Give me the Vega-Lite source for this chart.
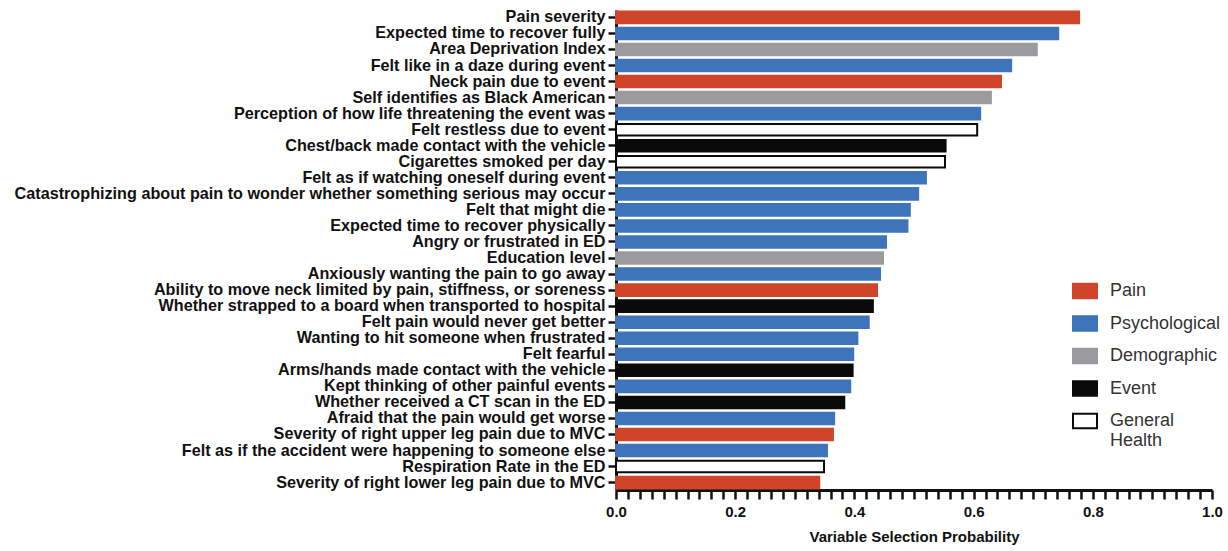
{
  "$schema": "https://vega.github.io/schema/vega-lite/v6.json",
  "autosize": "none",
  "width": 596,
  "height": 480,
  "padding": {"left": 616, "top": 10, "right": 16, "bottom": 61},
  "background": "white",
  "config": {
    "font": "Liberation Sans",
    "view": {"stroke": null}
  },
  "data": {
    "values": [
      {"variable": "Pain severity", "probability": 0.777, "category": "Pain"},
      {"variable": "Expected time to recover fully", "probability": 0.742, "category": "Psychological"},
      {"variable": "Area Deprivation Index", "probability": 0.706, "category": "Demographic"},
      {"variable": "Felt like in a daze during event", "probability": 0.663, "category": "Psychological"},
      {"variable": "Neck pain due to event", "probability": 0.646, "category": "Pain"},
      {"variable": "Self identifies as Black American", "probability": 0.629, "category": "Demographic"},
      {"variable": "Perception of how life threatening the event was", "probability": 0.611, "category": "Psychological"},
      {"variable": "Felt restless due to event", "probability": 0.606, "category": "General Health"},
      {"variable": "Chest/back made contact with the vehicle", "probability": 0.553, "category": "Event"},
      {"variable": "Cigarettes smoked per day", "probability": 0.552, "category": "General Health"},
      {"variable": "Felt as if watching oneself during event", "probability": 0.520, "category": "Psychological"},
      {"variable": "Catastrophizing about pain to wonder whether something serious may occur", "probability": 0.507, "category": "Psychological"},
      {"variable": "Felt that might die", "probability": 0.493, "category": "Psychological"},
      {"variable": "Expected time to recover physically", "probability": 0.489, "category": "Psychological"},
      {"variable": "Angry or frustrated in ED", "probability": 0.453, "category": "Psychological"},
      {"variable": "Education level", "probability": 0.448, "category": "Demographic"},
      {"variable": "Anxiously wanting the pain to go away", "probability": 0.443, "category": "Psychological"},
      {"variable": "Ability to move neck limited by pain, stiffness, or soreness", "probability": 0.438, "category": "Pain"},
      {"variable": "Whether strapped to a board when transported to hospital", "probability": 0.431, "category": "Event"},
      {"variable": "Felt pain would never get better", "probability": 0.424, "category": "Psychological"},
      {"variable": "Wanting to hit someone when frustrated", "probability": 0.405, "category": "Psychological"},
      {"variable": "Felt fearful", "probability": 0.398, "category": "Psychological"},
      {"variable": "Arms/hands made contact with the vehicle", "probability": 0.397, "category": "Event"},
      {"variable": "Kept thinking of other painful events", "probability": 0.393, "category": "Psychological"},
      {"variable": "Whether received a CT scan in the ED", "probability": 0.383, "category": "Event"},
      {"variable": "Afraid that the pain would get worse", "probability": 0.366, "category": "Psychological"},
      {"variable": "Severity of right upper leg pain due to MVC", "probability": 0.364, "category": "Pain"},
      {"variable": "Felt as if the accident were happening to someone else", "probability": 0.354, "category": "Psychological"},
      {"variable": "Respiration Rate in the ED", "probability": 0.349, "category": "General Health"},
      {"variable": "Severity of right lower leg pain due to MVC", "probability": 0.341, "category": "Pain"}
    ]
  },
  "mark": {"type": "bar", "strokeWidth": 2},
  "encoding": {
    "y": {
      "field": "variable",
      "type": "nominal",
      "sort": null,
      "scale": {"paddingInner": 0.28, "paddingOuter": 0.1},
      "axis": {
        "title": null,
        "labelFontSize": 16.2,
        "labelFontWeight": "bold",
        "labelColor": "#111",
        "labelLimit": 700,
        "labelPadding": 3,
        "tickSize": 8,
        "tickWidth": 2.5,
        "tickColor": "#111",
        "domainColor": "#111",
        "domainWidth": 3
      }
    },
    "x": {
      "field": "probability",
      "type": "quantitative",
      "scale": {"domain": [0, 1], "nice": false},
      "axis": {
        "orient": "bottom",
        "values": [0, 0.02, 0.04, 0.06, 0.08, 0.1, 0.12, 0.14, 0.16, 0.18, 0.2, 0.22, 0.24, 0.26, 0.28, 0.3, 0.32, 0.34, 0.36, 0.38, 0.4, 0.42, 0.44, 0.46, 0.48, 0.5, 0.52, 0.54, 0.56, 0.58, 0.6, 0.62, 0.64, 0.66, 0.68, 0.7, 0.72, 0.74, 0.76, 0.78, 0.8, 0.82, 0.84, 0.86, 0.88, 0.9, 0.92, 0.94, 0.96, 0.98, 1.0],
        "labelExpr": "abs(datum.value * 5 - round(datum.value * 5)) < 0.001 ? format(datum.value, '.1f') : ''",
        "labelOverlap": false,
        "labelFlush": false,
        "grid": false,
        "title": "Variable Selection  Probability",
        "titleFontSize": 15,
        "titleFontWeight": "bold",
        "titleColor": "#111",
        "titlePadding": 10,
        "labelFontSize": 15,
        "labelFontWeight": "bold",
        "labelColor": "#111",
        "labelPadding": 5,
        "tickSize": 9,
        "tickWidth": 2.5,
        "tickColor": "#111",
        "domainColor": "#111",
        "domainWidth": 3
      }
    },
    "fill": {
      "field": "category",
      "type": "nominal",
      "scale": {
        "domain": ["Pain", "Psychological", "Demographic", "Event", "General Health"],
        "range": ["#D0452A", "#3D74BA", "#9B9B9F", "#0A0A0A", "#FFFFFF"]
      },
      "legend": {
        "title": null,
        "orient": "none",
        "legendX": 456,
        "legendY": 268,
        "labelFontSize": 18,
        "labelColor": "#333",
        "labelExpr": "datum.label == 'General Health' ? ['General', 'Health'] : datum.label",
        "symbolType": "M-1,-0.6H1V0.6H-1Z",
        "symbolSize": 576,
        "symbolStrokeWidth": 2,
        "rowPadding": 7.5,
        "labelOffset": 12
      }
    },
    "stroke": {
      "field": "category",
      "type": "nominal",
      "scale": {
        "domain": ["Pain", "Psychological", "Demographic", "Event", "General Health"],
        "range": ["#D0452A", "#3D74BA", "#9B9B9F", "#0A0A0A", "#0A0A0A"]
      },
      "legend": null
    }
  }
}
